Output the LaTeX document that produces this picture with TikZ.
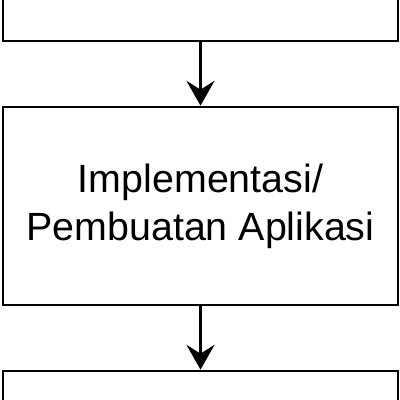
\documentclass[tikz,border=0pt]{standalone}
\usepackage{fontspec}
\setmainfont{Liberation Sans}
\usetikzlibrary{arrows.meta,positioning}

\begin{document}
\begin{tikzpicture}[stagebox/.style={draw,line width=1.9pt,minimum width=9.875cm,minimum height=4.95cm,align=center,font=\fontsize{28}{34}\selectfont},
	flow/.style={line width=1.9pt,-{Stealth[length=0.62cm,width=0.7cm,inset=0.22cm]}}]

	\clip (0,0) rectangle (10,10);

	\node[stagebox] (design) at (5.0125,11.45) {};
	\node[stagebox] (impl) [below of=design, node distance=6.6cm] {Implementasi/\\Pembuatan Aplikasi};
	\draw[flow] (design) -- (impl);
	\node[stagebox] (test) [below of=impl, node distance=6.6cm] {};
	\draw[flow] (impl) -- (test);

\end{tikzpicture}
\end{document}
